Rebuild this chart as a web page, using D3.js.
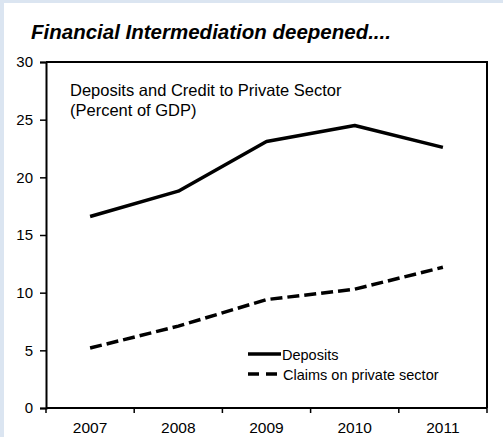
<!DOCTYPE html>
<html>
<head>
<meta charset="utf-8">
<script src="https://cdn.jsdelivr.net/npm/d3@7"></script>
<style>
  html, body { margin: 0; padding: 0; background: #ffffff; }
  svg { display: block; }
</style>
</head>
<body>
<script>
// Deposits and private-sector credit, percent of GDP
const years = ["2007", "2008", "2009", "2010", "2011"];
const deposits = [16.6, 18.8, 23.1, 24.5, 22.6];
const claims = [5.2, 7.1, 9.4, 10.3, 12.2];
const yTicks = [0, 5, 10, 15, 20, 25, 30];
const seriesNames = ["Deposits", "Claims on private sector"];

const W = 503, H = 437;
const plotLeft = 46, plotRight = 487, plotTop = 62, plotBottom = 408;

const svg = d3.select("body").append("svg")
  .attr("width", W).attr("height", H);

// light blue frame around the panel
svg.append("rect").attr("x", 0).attr("y", 0).attr("width", W).attr("height", H).attr("fill", "#dbe5f1");
svg.append("rect").attr("x", 4).attr("y", 3).attr("width", W - 4).attr("height", H - 3).attr("fill", "#ffffff");

const font = "Liberation Sans, Arial, sans-serif";

svg.append("text")
  .attr("x", 31).attr("y", 39)
  .attr("font-family", font)
  .attr("font-size", 20.5).attr("font-weight", "bold").attr("font-style", "italic")
  .attr("fill", "#000")
  .text("Financial Intermediation deepened....");

const x = d3.scaleBand().domain(years).range([plotLeft, plotRight]);
const y = d3.scaleLinear().domain([0, 30]).range([plotBottom, plotTop]);
const xc = d => x(d) + x.bandwidth() / 2;

// plot frame (top and right edges)
svg.append("path")
  .attr("d", `M${plotLeft},${plotTop}H${plotRight}V${plotBottom}`)
  .attr("fill", "none").attr("stroke", "#000").attr("stroke-width", 2);

// y axis
const yAxis = svg.append("g").attr("transform", `translate(${plotLeft},0)`)
  .call(d3.axisLeft(y).tickValues(yTicks).tickSize(6).tickPadding(7).tickFormat(d3.format("d")));
yAxis.select(".domain").attr("stroke-width", 2);
yAxis.selectAll(".tick line").attr("stroke-width", 1.5);
yAxis.selectAll("text").attr("font-family", font).attr("font-size", 15).attr("fill", "#000");

// x axis: ticks at category boundaries, labels at centers
const xAxis = svg.append("g").attr("transform", `translate(0,${plotBottom})`);
xAxis.append("line").attr("x1", plotLeft).attr("x2", plotRight).attr("stroke", "#000").attr("stroke-width", 2);
const bounds = years.map(d => x(d)).concat([plotRight]);
xAxis.selectAll("line.tk").data(bounds).join("line").attr("class", "tk")
  .attr("x1", d => d).attr("x2", d => d).attr("y1", 0).attr("y2", 5)
  .attr("stroke", "#000").attr("stroke-width", 1.5);
xAxis.selectAll("text").data(years).join("text")
  .attr("x", d => xc(d)).attr("y", 25)
  .attr("text-anchor", "middle")
  .attr("font-family", font).attr("font-size", 15.5).attr("fill", "#000")
  .text(d => d);

// chart heading inside the plot
svg.append("text").attr("x", 70).attr("y", 96)
  .attr("font-family", font).attr("font-size", 16.5).attr("fill", "#000")
  .text("Deposits and Credit to Private Sector");
svg.append("text").attr("x", 70).attr("y", 116)
  .attr("font-family", font).attr("font-size", 16.5).attr("fill", "#000")
  .text("(Percent of GDP)");

const line = d3.line().x((d, i) => xc(years[i])).y(d => y(d));

svg.append("path").datum(deposits)
  .attr("d", line).attr("fill", "none")
  .attr("stroke", "#000").attr("stroke-width", 3.5).attr("stroke-linejoin", "round");

svg.append("path").datum(claims)
  .attr("d", line).attr("fill", "none")
  .attr("stroke", "#000").attr("stroke-width", 3.5)
  .attr("stroke-dasharray", "12,5");

// legend
const legend = svg.append("g");
const styles = [null, "11,7"];
seriesNames.forEach((name, i) => {
  const ly = 354 + i * 20;
  legend.append("line").attr("x1", 248).attr("x2", 281 - i * 3).attr("y1", ly).attr("y2", ly)
    .attr("stroke", "#000").attr("stroke-width", 3.5)
    .attr("stroke-dasharray", styles[i]);
  legend.append("text").attr("x", i === 0 ? 282 : 283).attr("y", ly + 6)
    .attr("font-family", font).attr("font-size", 14.5).attr("fill", "#000")
    .text(name);
});
</script>
</body>
</html>
